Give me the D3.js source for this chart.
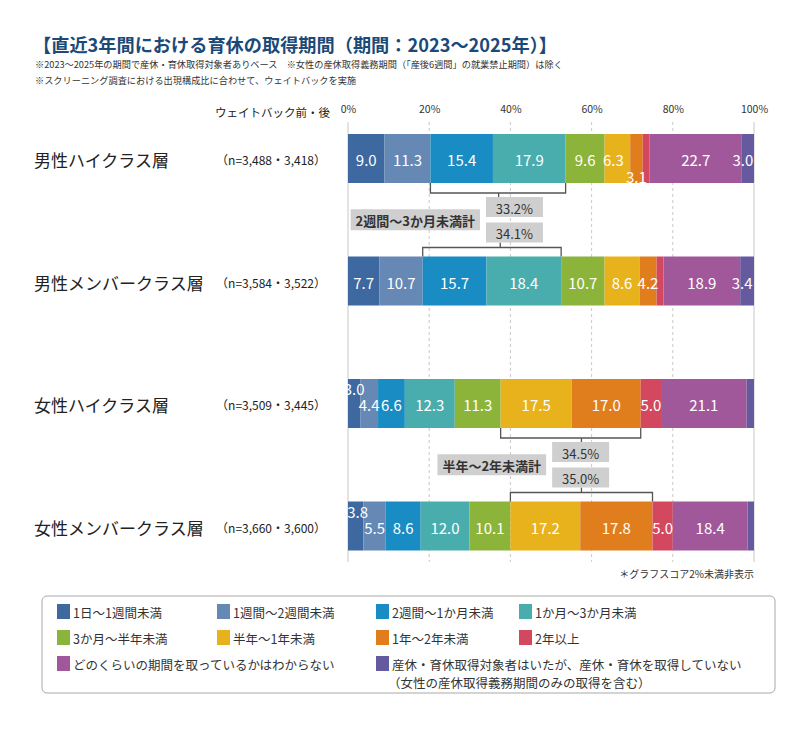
<!DOCTYPE html>
<html>
<head>
<meta charset="utf-8">
<script src="https://cdn.jsdelivr.net/npm/d3@7"></script>
<style>
  body { margin: 0; background: #fff; }
  svg { display: block; font-family: "Noto Sans CJK JP", "Noto Sans", sans-serif; }
</style>
</head>
<body>
<svg width="800" height="731"></svg>
<script>
// categories (legend order = stack order)
var categories = ["1日～1週間未満", "1週間～2週間未満", "2週間～1か月未満", "1か月～3か月未満",
                  "3か月～半年未満", "半年～1年未満", "1年～2年未満", "2年以上",
                  "どのくらいの期間を取っているかはわからない",
                  "産休・育休取得対象者はいたが、産休・育休を取得していない"];
var legendNote = "（女性の産休取得義務期間のみの取得を含む）";

var rows = ["男性ハイクラス層", "男性メンバークラス層", "女性ハイクラス層", "女性メンバークラス層"];
var nLabels = ["（n=3,488・3,418）", "（n=3,584・3,522）", "（n=3,509・3,445）", "（n=3,660・3,600）"];

var maleHigh     = [9.0, 11.3, 15.4, 17.9, 9.6, 6.3, 3.1, 1.7, 22.7, 3.0];
var maleMember   = [7.7, 10.7, 15.7, 18.4, 10.7, 8.6, 4.2, 1.7, 18.9, 3.4];
var femaleHigh   = [3.0, 4.4, 6.6, 12.3, 11.3, 17.5, 17.0, 5.0, 21.1, 1.8];
var femaleMember = [3.8, 5.5, 8.6, 12.0, 10.1, 17.2, 17.8, 5.0, 18.4, 1.6];

var tickValues = [0, 20, 40, 60, 80, 100];

// subtotal annotations
var sumLabels = ["2週間～3か月未満計", "半年～2年未満計"];
var sumValuesA = [33.2, 34.1];   // 男性 ハイ / メンバー
var sumValuesB = [34.5, 35.0];   // 女性 ハイ / メンバー

var colors = ["#3d68a0", "#6688b5", "#1a8cc4", "#4aadad", "#8db43a",
              "#e8b21c", "#e07e1e", "#d4485f", "#a0589a", "#665a9e"];

var svg = d3.select("svg");

var seriesByRow = [maleHigh, maleMember, femaleHigh, femaleMember];
var table = rows.map(function(r, i) {
  var o = { row: r };
  categories.forEach(function(c, j) { o[c] = seriesByRow[i][j]; });
  return o;
});

var x = d3.scaleLinear().domain([0, 100]).range([348, 754]);
var y = d3.scaleBand().domain(rows).range([134, 550.5]).paddingInner(0.6).paddingOuter(0);
var color = d3.scaleOrdinal().domain(categories).range(colors);

var stacked = d3.stack().keys(categories)(table);

// title
svg.append("text")
  .attr("x", 33).attr("y", 52)
  .attr("font-size", 18.2).attr("font-weight", "bold").attr("fill", "#1b4a78")
  .text("【直近3年間における育休の取得期間（期間：2023～2025年）】");

svg.append("text").attr("x", 35).attr("y", 68)
  .attr("font-size", 9.2).attr("fill", "#333")
  .text("※2023～2025年の期間で産休・育休取得対象者ありベース　※女性の産休取得義務期間（「産後6週間」の就業禁止期間）は除く");
svg.append("text").attr("x", 35).attr("y", 84)
  .attr("font-size", 9.2).attr("fill", "#333")
  .text("※スクリーニング調査における出現構成比に合わせて、ウェイトバックを実施");

// grid
var gridTop = 122, gridBottom = 562;
svg.append("g").selectAll("line")
  .data(tickValues).join("line")
  .attr("x1", function(d) { return x(d); }).attr("x2", function(d) { return x(d); })
  .attr("y1", gridTop).attr("y2", gridBottom)
  .attr("stroke", "#c8c8c8").attr("stroke-width", 1)
  .attr("stroke-dasharray", function(d) { return (d == 0 || d == 100) ? null : "3,3"; });

// top axis labels
var axis = svg.append("g").attr("transform", "translate(0,116)")
  .call(d3.axisTop(x).tickValues(tickValues).tickSize(0).tickFormat(function(d) { return d + "%"; }));
axis.select(".domain").remove();
axis.selectAll("text").attr("font-size", 10.5).attr("fill", "#333")
  .attr("font-family", "'Noto Sans CJK JP', sans-serif");

svg.append("text").attr("x", 330).attr("y", 117).attr("text-anchor", "end")
  .attr("font-size", 11.5).attr("fill", "#222").text("ウェイトバック前・後");

// row labels
svg.append("g").selectAll("text")
  .data(rows).join("text")
  .attr("x", 34).attr("y", function(d) { return y(d) + y.bandwidth() / 2 + 1; })
  .attr("dominant-baseline", "central")
  .attr("font-size", 17).attr("fill", "#222")
  .text(function(d) { return d; });

svg.append("g").selectAll("text")
  .data(nLabels).join("text")
  .attr("x", 326).attr("y", function(d, i) { return y(rows[i]) + y.bandwidth() / 2 + 1; })
  .attr("text-anchor", "end").attr("dominant-baseline", "central")
  .attr("font-size", 12).attr("fill", "#222")
  .text(function(d) { return d; });

// bars
var layers = svg.append("g").selectAll("g")
  .data(stacked).join("g")
  .attr("fill", function(d) { return color(d.key); });

layers.selectAll("rect")
  .data(function(d) { return d; }).join("rect")
  .attr("x", function(d) { return x(d[0]); })
  .attr("width", function(d) { return x(d[1]) - x(d[0]); })
  .attr("y", function(d) { return y(d.data.row); })
  .attr("height", y.bandwidth());

// label nudges for crowded small segments  [row, segment, dx, dy]
var nudges = [[0, 6, 0, 17], [0, 5, -4, 0], [0, 9, -5, 0], [1, 9, -5, 0], [2, 0, 0, -16], [3, 0, 2, -16]];
function nudge(r, s) {
  var n = nudges.find(function(v) { return v[0] == r && v[1] == s; });
  return n ? [n[2], n[3]] : [0, 0];
}

stacked.forEach(function(layer, s) {
  layer.forEach(function(d, r) {
    var v = d[1] - d[0];
    if (v < 2) return;
    var n = nudge(r, s);
    svg.append("text")
      .attr("x", x((d[0] + d[1]) / 2) + n[0])
      .attr("y", y(d.data.row) + y.bandwidth() / 2 + 1 + n[1])
      .attr("text-anchor", "middle").attr("dominant-baseline", "central")
      .attr("font-size", 15).attr("fill", "#fff")
      .text(d3.format(".1f")(v));
  });
});

// subtotal brackets
function cum(arr, i) { return d3.sum(arr.slice(0, i)); }

function bracketDown(row, arr, from, to) {
  var yb = y(row) + y.bandwidth();
  var x0 = x(cum(arr, from)), x1 = x(cum(arr, to + 1));
  svg.append("path")
    .attr("d", "M" + x0 + "," + yb + "V" + (yb + 10) + "H" + x1 + "V" + yb)
    .attr("fill", "none").attr("stroke", "#555").attr("stroke-width", 1.3);
  return yb;
}
function bracketUp(row, arr, from, to) {
  var yt = y(row);
  var x0 = x(cum(arr, from)), x1 = x(cum(arr, to + 1));
  svg.append("path")
    .attr("d", "M" + x0 + "," + yt + "V" + (yt - 9) + "H" + x1 + "V" + yt)
    .attr("fill", "none").attr("stroke", "#555").attr("stroke-width", 1.3);
  return yt;
}

function sumGroup(rowA, rowB, arrA, arrB, from, to, label, values, boxAt, stemA, stemB) {
  var yb = bracketDown(rowA, arrA, from, to);
  var yt = bracketUp(rowB, arrB, from, to);
  var bw = 57, bh = 20;
  var bx = x(boxAt) - bw / 2;
  var b1 = yb + 14, b2 = yt - 14 - bh;
  svg.append("line").attr("x1", x(stemA)).attr("x2", x(stemA))
    .attr("y1", yb + 10).attr("y2", b1).attr("stroke", "#555").attr("stroke-width", 1.3);
  svg.append("line").attr("x1", x(stemB)).attr("x2", x(stemB))
    .attr("y1", b2 + bh).attr("y2", yt - 9).attr("stroke", "#555").attr("stroke-width", 1.3);
  [b1, b2].forEach(function(by, i) {
    svg.append("rect").attr("x", bx).attr("y", by).attr("width", bw).attr("height", bh).attr("fill", "#cfcfcf");
    svg.append("text").attr("x", bx + bw / 2).attr("y", by + bh / 2 + 1)
      .attr("text-anchor", "middle").attr("dominant-baseline", "central")
      .attr("font-size", 13).attr("fill", "#333")
      .text(d3.format(".1f")(values[i]) + "%");
  });
  var t = svg.append("text")
    .attr("y", (b1 + b2 + bh) / 2 + 1)
    .attr("text-anchor", "end").attr("dominant-baseline", "central")
    .attr("font-size", 13).attr("font-weight", "bold").attr("fill", "#333")
    .attr("x", bx - 11).text(label);
  var bb = t.node().getBBox();
  svg.insert("rect", function() { return t.node(); })
    .attr("x", bb.x - 5).attr("y", (b1 + b2 + bh) / 2 - 10.5)
    .attr("width", bb.width + 10).attr("height", 21).attr("fill", "#cfcfcf");
}

sumGroup(rows[0], rows[1], maleHigh, maleMember, 2, 3, sumLabels[0], sumValuesA, 41, 37.1, 37.5);
sumGroup(rows[2], rows[3], femaleHigh, femaleMember, 5, 6, sumLabels[1], sumValuesB, 57.3, 57.5, 57.5);

svg.append("text").attr("x", 754).attr("y", 578).attr("text-anchor", "end")
  .attr("font-size", 10).attr("fill", "#333").text("＊グラフスコア2%未満非表示");

// legend
svg.append("rect").attr("x", 42).attr("y", 596).attr("width", 733).attr("height", 97)
  .attr("rx", 5).attr("fill", "#fff").attr("stroke", "#a8a8a8");

var colX = [57, 217, 376, 519];
var rowY = [611, 637, 663];
var legendPos = [[0, 0], [1, 0], [2, 0], [3, 0], [0, 1], [1, 1], [2, 1], [3, 1], [0, 2], [2, 2]];

var items = svg.append("g").selectAll("g")
  .data(categories).join("g")
  .attr("transform", function(d, i) { return "translate(" + colX[legendPos[i][0]] + "," + rowY[legendPos[i][1]] + ")"; });
items.append("rect").attr("x", 0).attr("y", -7).attr("width", 13).attr("height", 15)
  .attr("fill", function(d) { return color(d); });
items.append("text").attr("x", 16).attr("y", 1).attr("dominant-baseline", "central")
  .attr("font-size", 12.5).attr("fill", "#333")
  .text(function(d) { return d; });

svg.append("text").attr("x", colX[2] + 12).attr("y", rowY[2] + 19).attr("dominant-baseline", "central")
  .attr("font-size", 12.5).attr("fill", "#333").text(legendNote);
</script>
</body>
</html>
